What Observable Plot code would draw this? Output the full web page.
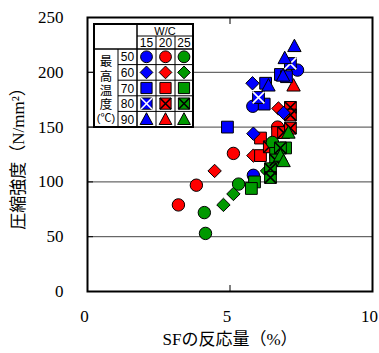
<!DOCTYPE html>
<html>
<head>
<meta charset="utf-8">
<script src="https://cdn.jsdelivr.net/npm/d3@7"></script>
<script src="https://cdn.jsdelivr.net/npm/@observablehq/plot@0.6"></script>
<style>
  html, body { margin: 0; padding: 0; background: #fff; }
  #wrap { position: relative; width: 379px; height: 353px; }
  #wrap > svg.legend { position: absolute; left: 93px; top: 23px; }
  svg.mainplot text { font-family: 'Liberation Serif', 'Noto Sans CJK JP', serif !important; }
  svg.legend text { font-family: 'Liberation Sans', 'Noto Sans CJK JP', sans-serif; }
</style>
</head>
<body>
<div id="wrap"></div>
<script>
// ---- Data ----
const wcLevels = [15, 20, 25];
const tempLevels = [50, 60, 70, 80, 90];
const wcColors = ["#0000ff", "#ff0000", "#009900"];
const xTicks = [0, 5, 10];
const yTicks = [0, 50, 100, 150, 200, 250];
const yGrid = [50, 100, 150, 200];
const xLabel = "SFの反応量（%）";
const yLabel = "圧縮強度（N/mm²）";
const legendHead = "W/C";
const legendSide = ["最", "高", "温", "度", "(℃)"];

// [SF reaction amount (%), compressive strength (N/mm²)]
const wc15_t50 = [[5.82, 106], [5.80, 169], [7.37, 202]];
const wc15_t60 = [[5.79, 190], [5.82, 144], [6.88, 163]];
const wc15_t70 = [[4.91, 150], [6.25, 190], [6.20, 171], [6.77, 198], [6.98, 196]];
const wc15_t80 = [[6.00, 177], [7.12, 208]];
const wc15_t90 = [[7.26, 224], [6.92, 213], [6.35, 188], [6.86, 197]];

const wc20_t50 = [[3.19, 79], [3.82, 97], [5.12, 126], [6.67, 150]];
const wc20_t60 = [[4.46, 110], [6.70, 167], [5.82, 124]];
const wc20_t70 = [[6.07, 140], [6.67, 145], [6.07, 124]];
const wc20_t80 = [[7.12, 168], [7.12, 161], [6.88, 145], [7.12, 149], [6.38, 132]];
const wc20_t90 = [[7.23, 188]];

const wc25_t50 = [[4.14, 53], [4.10, 72], [5.30, 98], [6.49, 136]];
const wc25_t60 = [[4.77, 79], [5.12, 89], [6.30, 110]];
const wc25_t70 = [[5.86, 100], [5.75, 94], [6.95, 131], [6.60, 126]];
const wc25_t80 = [[6.77, 131], [6.60, 120], [6.42, 112], [6.42, 104]];
const wc25_t90 = [[7.05, 145], [6.77, 124], [6.88, 119]];

const seriesByWc = {
  15: [wc15_t50, wc15_t60, wc15_t70, wc15_t80, wc15_t90],
  20: [wc20_t50, wc20_t60, wc20_t70, wc20_t80, wc20_t90],
  25: [wc25_t50, wc25_t60, wc25_t70, wc25_t80, wc25_t90]
};
const drawOrder = [20, 15, 25];

// ---- Symbols ----
function mk(fn) { return { draw(ctx, size) { fn(ctx, Math.sqrt(size / Math.PI)); } }; }
const symCircle = mk((c, r) => { c.moveTo(r, 0); c.arc(0, 0, r, 0, 2 * Math.PI); });
const symDiamond = mk((c, r) => { const h = r * 1.08; c.moveTo(0, -h); c.lineTo(h, 0); c.lineTo(0, h); c.lineTo(-h, 0); c.closePath(); });
const symSquare = mk((c, r) => { const s = r * 0.95; c.moveTo(-s, -s); c.lineTo(s, -s); c.lineTo(s, s); c.lineTo(-s, s); c.closePath(); });
const symTriangle = mk((c, r) => { const w = r * 1.08; c.moveTo(0, -r * 1.1); c.lineTo(w, r * 0.9); c.lineTo(-w, r * 0.9); c.closePath(); });
const symCross = mk((c, r) => { const s = r * 0.95; c.moveTo(-s, -s); c.lineTo(s, s); c.moveTo(s, -s); c.lineTo(-s, s); });
const tempSymbols = [symCircle, symDiamond, symSquare, symSquare, symTriangle];
const R = 6.2;

// ---- Table ----
const rows = [];
for (const wc of drawOrder) {
  seriesByWc[wc].forEach((arr, ti) => {
    for (const [sf, fc] of arr) rows.push({ sf, fc, wc, temp: tempLevels[ti] });
  });
}

const dotMarks = [];
for (const wc of drawOrder) {
  tempLevels.forEach((t, ti) => {
    const data = rows.filter(d => d.wc === wc && d.temp === t);
    dotMarks.push(Plot.dot(data, {
      x: "sf", y: "fc", r: R, fill: "wc", stroke: "#000", strokeWidth: 1,
      symbol: tempSymbols[ti]
    }));
    if (t === 80) {
      dotMarks.push(Plot.dot(data, {
        x: "sf", y: "fc", r: R, fill: "none",
        stroke: wc === 15 ? "#fff" : "#000", strokeWidth: 1.6,
        symbol: symCross
      }));
    }
  });
}

const chart = Plot.plot({
  width: 379, height: 353,
  marginLeft: 87, marginRight: 7, marginTop: 17, marginBottom: 62,
  style: { fontFamily: "'Liberation Serif','Noto Sans CJK JP',serif", fontSize: "17px", color: "#000", background: "#fff" },
  x: { domain: [0, 10] },
  y: { domain: [0, 250] },
  color: { type: "ordinal", domain: wcLevels, range: wcColors },
  marks: [
    Plot.gridY(yGrid, { stroke: "#444", strokeOpacity: 1, strokeWidth: 1 }),
    Plot.axisX(xTicks, { tickSize: 0, tickPadding: 18, dx: -3, label: xLabel, labelAnchor: "center", labelOffset: 53, labelArrow: "none", fontSize: 17 }),
    Plot.axisY(yTicks, { tickSize: 0, tickPadding: 24, label: yLabel, labelAnchor: "center", labelOffset: 76, labelArrow: "none", fontSize: 17 }),
    Plot.axisX([5], { anchor: "bottom", tickSize: -6, text: null, label: null }),
    Plot.axisX([5], { anchor: "top", tickSize: -6, text: null, label: null }),
    Plot.axisY(yGrid, { anchor: "left", tickSize: -6, text: null, label: null }),
    ...dotMarks,
    Plot.frame({ stroke: "#000", strokeWidth: 2 })
  ]
});
chart.classList.add("mainplot");
const wrap = document.getElementById("wrap");
wrap.appendChild(chart);

// ---- Legend table (W/C x max temperature) ----
const lw = 101, lh = 106;
const svg = d3.create("svg").attr("class", "legend").attr("width", lw).attr("height", lh);
const c = [1, 25, 44, 63, 82, 100];
const rr = [1, 13, 26];
for (let k = 1; k <= 5; k++) rr.push(26 + 15.6 * k);
svg.append("rect").attr("x", c[0]).attr("y", rr[0]).attr("width", c[5] - c[0]).attr("height", rr[7] - rr[0])
  .attr("fill", "#fff").attr("stroke", "none");
const line = (x1, y1, x2, y2, w = 1) => svg.append("line").attr("x1", x1).attr("y1", y1).attr("x2", x2).attr("y2", y2)
  .attr("stroke", "#000").attr("stroke-width", w);
line(c[2], rr[0], c[2], rr[7], 1.5);
line(c[1], rr[2], c[1], rr[7]);
line(c[3], rr[1], c[3], rr[7]);
line(c[4], rr[1], c[4], rr[7]);
line(c[2], rr[1], c[5], rr[1]);
line(c[0], rr[2], c[5], rr[2], 1.5);
for (let k = 3; k <= 6; k++) line(c[1], rr[k], c[5], rr[k]);
svg.append("rect").attr("x", c[0]).attr("y", rr[0]).attr("width", c[5] - c[0]).attr("height", rr[7] - rr[0])
  .attr("fill", "none").attr("stroke", "#000").attr("stroke-width", 2);
const txt = (x, y, s, size) => svg.append("text").attr("x", x).attr("y", y).attr("text-anchor", "middle")
  .attr("dominant-baseline", "central").attr("font-size", size).attr("fill", "#000").text(s);
txt((c[2] + c[5]) / 2, (rr[0] + rr[1]) / 2 + 0.5, legendHead, 11);
wcLevels.forEach((wc, i) => txt((c[2 + i] + c[3 + i]) / 2, (rr[1] + rr[2]) / 2 + 0.5, String(wc), 12));
tempLevels.forEach((t, k) => txt((c[1] + c[2]) / 2, (rr[2 + k] + rr[3 + k]) / 2 + 0.5, String(t), 12));
const sideY = [39, 53.5, 68, 82, 95];
legendSide.forEach((s, i) => txt((c[0] + c[1]) / 2, sideY[i], s, i === 4 ? 11 : 12.5));
const lr = 5.9;
wcLevels.forEach((wc, i) => {
  tempLevels.forEach((t, k) => {
    const cx = (c[2 + i] + c[3 + i]) / 2, cy = (rr[2 + k] + rr[3 + k]) / 2;
    svg.append("path").attr("transform", `translate(${cx},${cy})`)
      .attr("d", d3.symbol(tempSymbols[k], lr * lr * Math.PI)())
      .attr("fill", wcColors[i]).attr("stroke", "#000").attr("stroke-width", 1);
    if (t === 80) {
      svg.append("path").attr("transform", `translate(${cx},${cy})`)
        .attr("d", d3.symbol(symCross, lr * lr * Math.PI)())
        .attr("fill", "none").attr("stroke", wc === 15 ? "#fff" : "#000").attr("stroke-width", 1.6);
    }
  });
});
wrap.appendChild(svg.node());
</script>
</body>
</html>
